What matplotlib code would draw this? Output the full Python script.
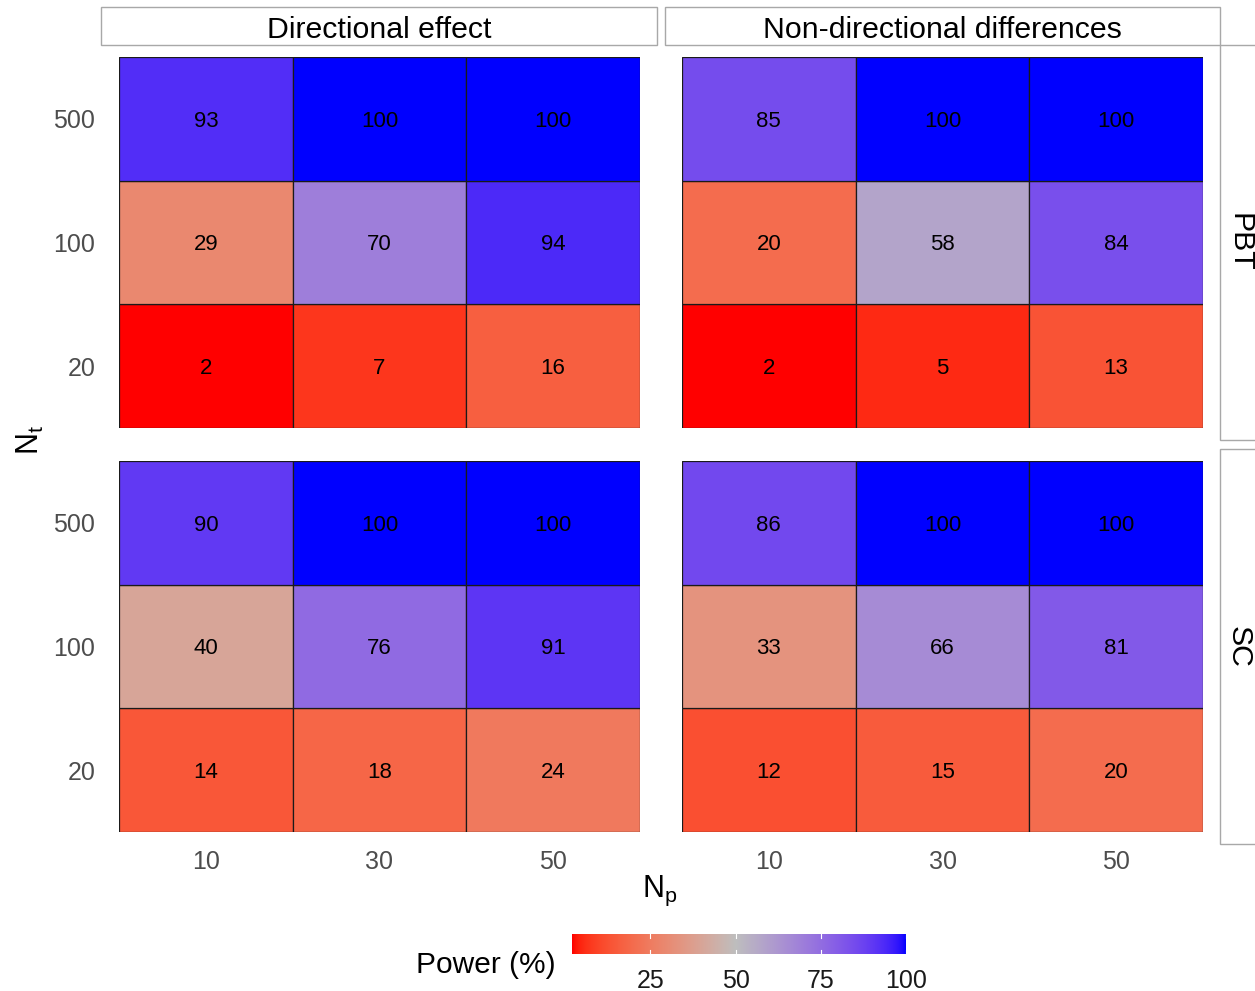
import numpy as np
import matplotlib
matplotlib.use("Agg")
import matplotlib.pyplot as plt
from matplotlib.patches import Rectangle

plt.rcParams['font.family'] = ['Liberation Sans', 'DejaVu Sans']

# ---------------- data ----------------
np_levels = ["10", "30", "50"]          # N_p (x)
nt_levels = ["20", "100", "500"]        # N_t (y, bottom to top)
col_facets = ["Directional effect", "Non-directional differences"]
row_facets = ["PBT", "SC"]

# rows ordered by nt_levels (20, 100, 500), columns by np_levels
dir_pbt = [[2, 7, 16], [29, 70, 94], [93, 100, 100]]
non_pbt = [[2, 5, 13], [20, 58, 84], [85, 100, 100]]
dir_sc = [[14, 18, 24], [40, 76, 91], [90, 100, 100]]
non_sc = [[12, 15, 20], [33, 66, 81], [86, 100, 100]]
panels = {("PBT", "Directional effect"): dir_pbt,
          ("PBT", "Non-directional differences"): non_pbt,
          ("SC", "Directional effect"): dir_sc,
          ("SC", "Non-directional differences"): non_sc}

legend_ticks = [25, 50, 75, 100]
vmin, vmax, vmid = 2, 100, 50

# ---------------- colour scale (Lab interpolation) ----------------
WHITE = np.array([0.95047, 1.0, 1.08883])
M = np.array([[0.4124, 0.3576, 0.1805], [0.2126, 0.7152, 0.0722], [0.0193, 0.1192, 0.9505]])
Minv = np.linalg.inv(M)

def rgb2lab(rgb):
    c = np.asarray(rgb, float)
    lin = np.where(c <= 0.04045, c / 12.92, ((c + 0.055) / 1.055) ** 2.4)
    xyz = M @ lin / WHITE
    d = 6 / 29
    f = np.where(xyz > d ** 3, np.cbrt(xyz), xyz / (3 * d * d) + 4 / 29)
    return np.array([116 * f[1] - 16, 500 * (f[0] - f[1]), 200 * (f[1] - f[2])])

def lab2rgb(lab):
    L, a, b = lab
    fy = (L + 16) / 116
    fx = fy + a / 500
    fz = fy - b / 200
    d = 6 / 29
    f = np.array([fx, fy, fz])
    xyz = np.where(f > d, f ** 3, 3 * d * d * (f - 4 / 29)) * WHITE
    lin = Minv @ xyz
    lin = np.clip(lin, 0, 1)
    c = np.where(lin <= 0.0031308, 12.92 * lin, 1.055 * lin ** (1 / 2.4) - 0.055)
    return np.clip(c, 0, 1)

LOW = rgb2lab([1, 0, 0])
MID = rgb2lab([190 / 255, 190 / 255, 190 / 255])
HIGH = rgb2lab([0, 0, 1])

def colour(v):
    if v <= vmid:
        u = (v - vmin) / (vmid - vmin)
        lab = LOW + (MID - LOW) * u
    else:
        u = (v - vmid) / (vmax - vmid)
        lab = MID + (HIGH - MID) * u
    return lab2rgb(lab)

# ---------------- figure ----------------
W, H = 1255, 991
fig = plt.figure(figsize=(W / 100, H / 100), dpi=100)

def fbox(x0, y0, x1, y1):
    return [x0 / W, 1 - y1 / H, (x1 - x0) / W, (y1 - y0) / H]

tile_x = [(119, 640), (682, 1203)]
tile_y = [(57, 428), (461, 832)]
tick_col = "#4D4D4D"

for ri, rf in enumerate(row_facets):
    for ci, cf in enumerate(col_facets):
        x0, x1 = tile_x[ci]
        y0, y1 = tile_y[ri]
        ax = fig.add_axes(fbox(x0, y0, x1, y1))
        vals = panels[(rf, cf)]
        for yi, nt in enumerate(nt_levels):
            for xi, npv in enumerate(np_levels):
                v = vals[yi][xi]
                ax.add_patch(Rectangle((xi + 0.5, yi + 0.5), 1, 1, facecolor=colour(v),
                                       edgecolor="#1A1A1A", linewidth=0.9))
                ax.text(xi + 1, yi + 1, str(v), ha="center", va="center_baseline",
                        fontsize=16, color="black")
        ax.set_xlim(0.5, 3.5)
        ax.set_ylim(0.5, 3.5)
        for s in ax.spines.values():
            s.set_visible(False)
        ax.set_xticks([1, 2, 3])
        ax.set_yticks([1, 2, 3])
        ax.tick_params(length=0, labelsize=18, labelcolor=tick_col)
        if ci == 0:
            ax.set_yticklabels(nt_levels)
            ax.tick_params(axis="y", pad=17)
        else:
            ax.set_yticklabels([])
        if ri == 1:
            ax.set_xticklabels(np_levels)
            ax.tick_params(axis="x", pad=13)
        else:
            ax.set_xticklabels([])

# strips
strip_edge = "#A8A8A8"
top_strips = [(101, 657), (665, 1220)]
for (x0, x1), cf in zip(top_strips, col_facets):
    fig.patches.append(Rectangle((x0 / W, 1 - 45 / H), (x1 - x0) / W, 38 / H,
                                 transform=fig.transFigure, facecolor="white",
                                 edgecolor=strip_edge, linewidth=1.0))
    fig.text((x0 + x1) / 2 / W, 1 - 27 / H, cf, ha="center", va="center_baseline",
             fontsize=21.8, color="black")
right_strips = [(45, 440), (449, 844)]
for (y0, y1), rf in zip(right_strips, row_facets):
    fig.patches.append(Rectangle((1220 / W, 1 - y1 / H), 60 / W, (y1 - y0) / H,
                                 transform=fig.transFigure, facecolor="white",
                                 edgecolor=strip_edge, linewidth=1.0))
    fig.text(1239 / W, 1 - (y0 + y1) / 2 / H, rf, ha="center", va="center",
             rotation=270, fontsize=21.8, color="black")

# axis titles
fig.text(660 / W, 1 - 891 / H, r"N$_\mathregular{p}$", ha="center", va="center", fontsize=22)
fig.text(30 / W, 1 - 440 / H, r"N$_\mathregular{t}$", ha="center", va="center",
         fontsize=22, rotation=90)

# colour bar
cax = fig.add_axes(fbox(572, 934, 906, 954))
grad = np.linspace(vmin, vmax, 400)
img = np.array([[colour(v) for v in grad]])
cax.imshow(img, aspect="auto", extent=(vmin, vmax, 0, 1))
cax.set_xlim(vmin, vmax)
cax.set_ylim(0, 1)
for s in cax.spines.values():
    s.set_visible(False)
for t in legend_ticks:
    cax.plot([t, t], [0, 0.2], color="white", lw=0.8)
    cax.plot([t, t], [0.8, 1], color="white", lw=0.8)
cax.set_yticks([])
cax.set_xticks(legend_ticks)
cax.set_xticklabels([str(t) for t in legend_ticks])
cax.tick_params(length=0, labelsize=18, labelcolor="#1A1A1A", pad=11)
fig.text(556 / W, 1 - 965 / H, "Power (%)", ha="right", va="center", fontsize=21.5)

fig.savefig("out.png", dpi=100, facecolor="white")
